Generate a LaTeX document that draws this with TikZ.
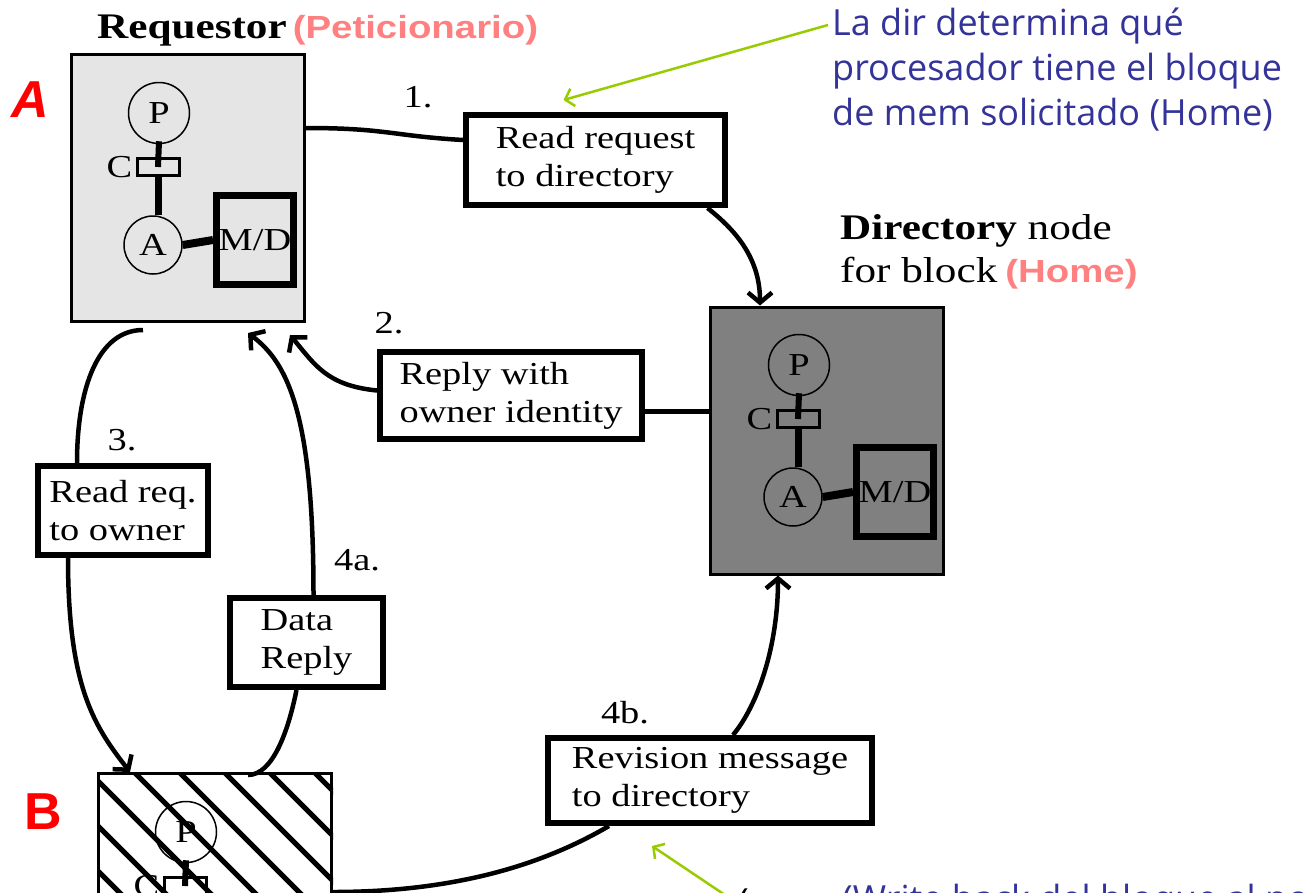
\documentclass[tikz,border=0pt]{standalone}
\usepackage{fontspec}
\setmainfont{Liberation Serif}[FakeStretch=1.2]
\newfontfamily\tagfont{Liberation Sans}[FakeStretch=1.2]
\newfontfamily\notefont{Open Sans}
\newfontfamily\markfont{Liberation Sans}
\usepackage{tikz}
\usetikzlibrary{positioning,arrows.meta,calc}
\definecolor{cpink}{RGB}{255,128,128}
\definecolor{cnote}{RGB}{51,51,153}
\definecolor{cgreen}{RGB}{153,204,0}
\definecolor{cred}{RGB}{255,0,0}
\definecolor{creq}{RGB}{229,229,229}
\definecolor{cdir}{RGB}{128,128,128}

\begin{document}
\begin{tikzpicture}[x=1pt, y=-1pt,
  procbox/.style={draw, line width=3pt, minimum width=233pt, minimum height=267pt, inner sep=0pt},
  msg/.style={draw, line width=6pt, fill=white, align=left, inner sep=0pt,
              font=\fontsize{32}{38}\selectfont},
  cpu/.style={circle, draw, line width=1.5pt, minimum size=61pt, inner sep=0pt,
              font=\fontsize{32}{38}\selectfont},
  cache/.style={draw, line width=3pt, minimum width=42pt, minimum height=17pt, inner sep=0pt},
  mem/.style={draw, line width=7pt, minimum width=77pt, minimum height=89pt, inner sep=0pt,
              font=\fontsize{32}{38}\selectfont},
  num/.style={inner sep=0pt, font=\fontsize{32}{38}\selectfont},
  note/.style={inner sep=0pt, align=left, text=cnote, font=\notefont\fontsize{36}{45}\selectfont},
  wire/.style={line width=6pt},
  ln/.style={line width=4.5pt},
  ar/.style={ln, -{Straight Barb[length=10pt,width=24pt]}},
  hint/.style={draw=cgreen, line width=2.5pt, -{Straight Barb[length=8pt,width=18pt]}},
  hatch/.style={line width=5pt}]
\path[use as bounding box, fill=white] (0,0) rectangle (1303,892);

% the three nodes
\node[procbox, fill=creq] (boxa) at (188,188) {};
\node[procbox, fill=cdir] (dir)  at (827,440.5) {};
\node[procbox, fill=white] (boxb) at (215,907) {};
\begin{scope}
  \clip (boxb.south west) rectangle (boxb.north east);
  \foreach \k in {-8,...,6}
    \draw[hatch] (89+45*\k-200,572) -- ++(600,600);
\end{scope}
\node[procbox] at (boxb) {};

\foreach \n/\bx/\by in {a/70/53, d/710/305, b/97/772}{
  \node[cpu] (p\n) at (\bx+89,\by+60) {P};
  \node[cache] (c\n) at (\bx+88,\by+114) {};
  \node[num, anchor=east] (cl\n) at ([xshift=-3pt]c\n.west) {C};
  \node[cpu, minimum size=58pt] (a\n) at (\bx+83,\by+192) {A};
  \node[mem] (m\n) at (\bx+185,\by+187) {M/D};
  \draw[wire] ([yshift=3pt]p\n.south) -- (c\n.center);
  \draw[wire, line width=7pt] (c\n.south) -- (c\n.south |- a\n.north);
  \draw[wire, line width=8pt] (a\n.east) -- (m\n.west);
}

\node[anchor=base west, inner sep=0pt, font=\fontsize{36}{42}\selectfont] (reqtitle) at (97,38)
  {\textbf{Requestor}\hspace{6pt}{\tagfont\bfseries\fontsize{32}{36}\selectfont\color{cpink}(Peticionario)}};
\node[anchor=north west, inner sep=0pt, align=left, font=\fontsize{36}{43}\selectfont] (dirtitle) at (840,214)
  {\textbf{Directory} node\\for block\hspace{8pt}{\tagfont\bfseries\fontsize{32}{36}\selectfont\color{cpink}(Home)}};
\node[text=cred, font=\markfont\bfseries\itshape\fontsize{52}{52}\selectfont] (taga) at (30,100) {A};
\node[text=cred, font=\markfont\bfseries\fontsize{52}{52}\selectfont] (tagb) at (43,812) {B};

% messages
\node[msg, minimum width=259pt, minimum height=90pt] (req) at (595.5,160) {Read request\\to directory};
\node[msg, minimum width=262pt, minimum height=87pt] (rep) at (511,395.5) {Reply with\\owner identity};
\node[msg, minimum width=170pt, minimum height=89pt] (own) at (123,510.5) {Read req.\\to owner};
\node[msg, minimum width=153pt, minimum height=89pt] (dat) at (306.5,642.5) {Data\\Reply};
\node[msg, minimum width=324pt, minimum height=85pt] (rev) at (710,780.5) {Revision message\\to directory};
\node[num] (n1)  at (418,97)  {1.};
\node[num] (n2)  at (389,323) {2.};
\node[num] (n3)  at (122,440) {3.};
\node[num] (n4a) at (357,560) {4a.};
\node[num] (n4b) at (625,713) {4b.};

\draw[ln] ([yshift=-75pt]boxa.north east) .. controls +(80,0) and +(-70,-4) .. ([yshift=20pt]req.west);
\draw[ar] ([xshift=112pt]req.south) .. controls +(25,20) and +(0,-50) .. ([xshift=-67pt]dir.north);
\draw[ln] ([yshift=-16pt]rep.east) -- ([yshift=-16pt]rep.east -| dir.west);
\draw[ar] ([yshift=5pt]rep.west) .. controls +(-50,-5) and +(25,30) .. ([xshift=102pt,yshift=-12pt]boxa.south);
\draw[ln] ([xshift=-45pt,yshift=-7pt]boxa.south) .. controls +(-45,0) and +(0,-75) .. ([xshift=-46pt]own.north);
\draw[ar] ([xshift=-55pt]own.south) .. controls +(0,130) and +(-35,-45) .. ([xshift=-85pt]boxb.north);
\draw[ln] ([xshift=33pt,yshift=-3pt]boxb.north) .. controls +(25,0) and +(-8,40) .. ([xshift=-10pt]dat.south);
\draw[ar] ([xshift=7pt]dat.north) .. controls +(0,-180) and +(40,30) .. ([xshift=60pt,yshift=-10pt]boxa.south);
\draw[ln] ([yshift=15pt]boxb.east) .. controls +(130,0) and +(-60,35) .. ([xshift=-101pt]rev.south);
\draw[ar] ([xshift=23pt]rev.north) .. controls +(25,-30) and +(0,70) .. ([xshift=-49pt]dir.south);

% notes
\node[note, anchor=west] (dirnote) at (832,70)
  {La dir determina qué\\procesador tiene el bloque\\de mem solicitado (Home)};
\draw[hint] ([xshift=-4pt,yshift=45pt]dirnote.west) -- ([xshift=-32pt,yshift=12pt]req.north);
\node[note, anchor=base west] (wbnote) at (842,911) {(Write back del bloque al nodo Home)};
\node[inner sep=0pt, anchor=base west, font=\notefont\fontsize{36}{45}\selectfont] (wbparen) at (738,914) {(};
\coordinate (wbtail) at (728,897);
\draw[hint] (wbtail) -- ([xshift=-58pt,yshift=-20pt]rev.south);
\end{tikzpicture}
\end{document}
